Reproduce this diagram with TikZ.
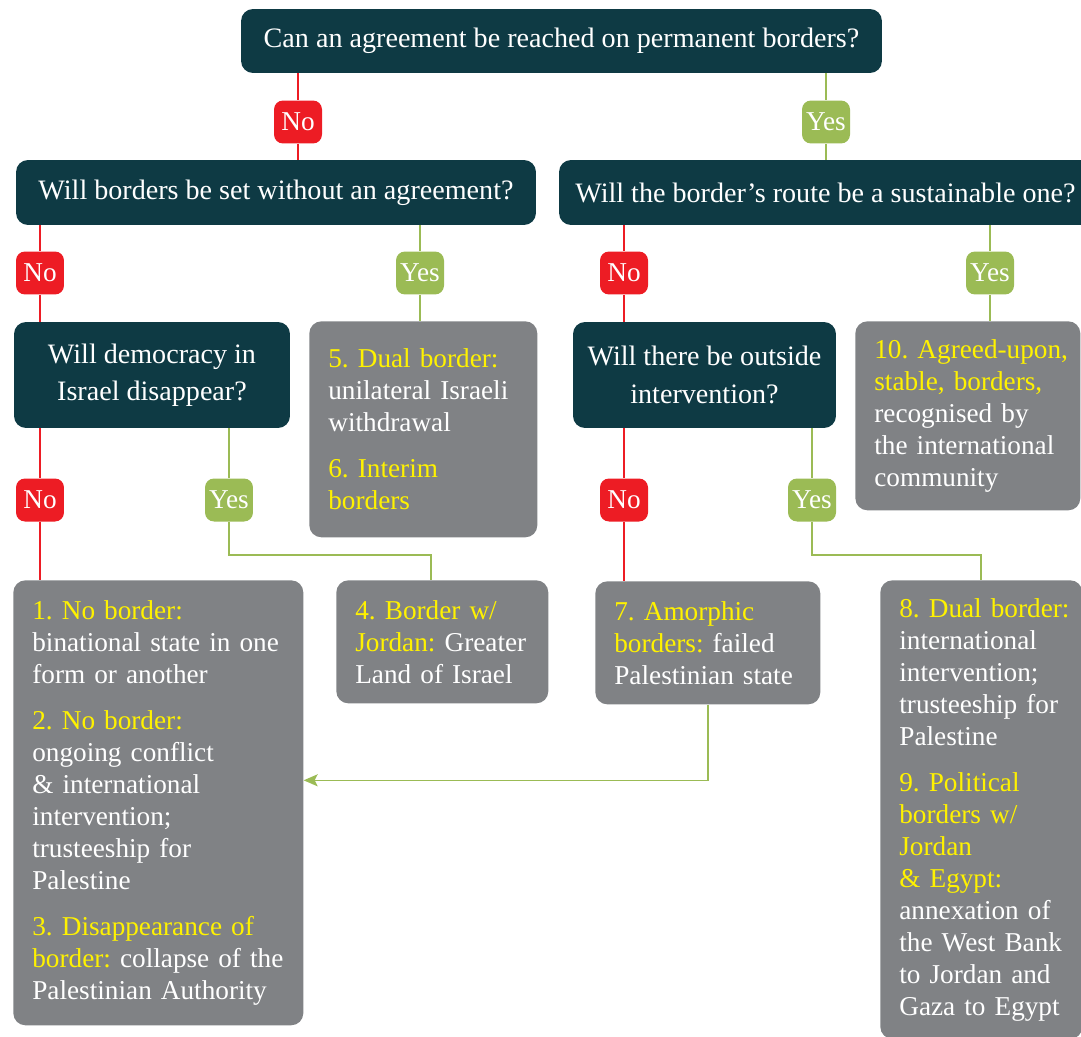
\documentclass[tikz,border=0pt]{standalone}
\usepackage{xcolor}
\usepackage{fontspec}
\setmainfont{Liberation Serif}
\usepackage{tikz}
\usetikzlibrary{arrows.meta,positioning}

\definecolor{qteal}{RGB}{14,58,68}
\definecolor{ogrey}{RGB}{128,130,133}
\definecolor{nored}{RGB}{237,28,36}
\definecolor{yesgreen}{RGB}{155,187,85}
\definecolor{scenyellow}{RGB}{255,242,0}

\newcommand{\scen}[1]{\textcolor{scenyellow}{#1}}
\frenchspacing
\hyphenpenalty=10000
\exhyphenpenalty=10000

\tikzset{
  question/.style={rounded corners=0.24cm,fill=qteal,text=white,align=center,inner sep=0pt,
    font=\fontsize{16pt}{18.2pt}\selectfont},
  outcome/.style={rounded corners=0.24cm,fill=ogrey,text=white,align=left,anchor=north west,
    inner xsep=0.16cm,inner ysep=0.36cm,execute at begin node=\setlength{\leftskip}{0.22cm}},
  nobadge/.style={rounded corners=0.18cm,fill=nored,text=white,minimum width=0.96cm,minimum height=0.86cm,inner sep=0pt},
  yesbadge/.style={nobadge,fill=yesgreen},
  noline/.style={draw=nored,line width=0.9pt},
  yesline/.style={draw=yesgreen,line width=0.9pt}
}

\begin{document}
\begin{tikzpicture}[x=0.02cm,y=-0.02cm,font=\fontsize{15.5pt}{18.2pt}\selectfont]
\useasboundingbox (0,0) rectangle (1081,1037);

% questions
\node[question,minimum width=12.82cm,minimum height=1.28cm] (agree) at (561.5,41) {Can an agreement be reached on permanent borders?};
\node[question,minimum width=10.4cm,minimum height=1.3cm] (unilat) at (276,192.5) {Will borders be set without an agreement?};
\node[question,minimum width=10.66cm,minimum height=1.3cm] (sustain) at (825.5,192.5) {Will the border’s route be a sustainable one?};
\node[question,minimum width=5.52cm,minimum height=2.12cm] (democ) at (152,375) {Will democracy in\\[3pt] Israel disappear?};
\node[question,minimum width=5.26cm,minimum height=2.12cm] (interv) at (704.5,375) {Will there be outside\\[3pt] intervention?};

% scenarios
\node[outcome,text width=4.24cm,minimum height=4.32cm] (out56) at (309,321) {\scen{5. Dual border:}\\ unilateral Israeli\\ withdrawal\\[8pt] \scen{6. Interim}\\ \scen{borders}};
\node[outcome,text width=4.18cm,minimum height=3.78cm] (out10) at (855,321) {\scen{10. Agreed-upon,}\\ \scen{stable, borders,}\\ recognised by\\ the international\\ community};
\node[outcome,text width=5.48cm,minimum height=8.9cm] (out1) at (13,580) {\scen{1. No border:}\\ binational state in one\\ form or another\\[8pt] \scen{2. No border:}\\ ongoing conflict\\ \& international\\ intervention;\\ trusteeship for\\ Palestine\\[8pt] \scen{3. Disappearance of}\\ \scen{border:} collapse of the\\ Palestinian Authority};
\node[outcome,text width=3.92cm,minimum height=2.46cm] (out4) at (336,580) {\scen{4. Border w/}\\ \scen{Jordan:} Greater\\ Land of Israel};
\node[outcome,text width=4.18cm,minimum height=2.46cm] (out7) at (595,581) {\scen{7. Amorphic}\\ \scen{borders:} failed\\ Palestinian state};
\node[outcome,text width=3.72cm] (out89) at (880,580) {\scen{8. Dual border:}\\ international\\ intervention;\\ trusteeship for\\ Palestine\\[8pt] \scen{9. Political}\\ \scen{borders w/}\\ \scen{Jordan}\\ \scen{\& Egypt:}\\ annexation of\\ the West Bank\\ to Jordan and\\ Gaza to Egypt};

% answers
\node[nobadge] (no1) at (298,122) {No};
\node[yesbadge] (yes1) at (826,122) {Yes};
\node[nobadge] (no2) at (40,273) {No};
\node[yesbadge] (yes2) at (420,273) {Yes};
\node[nobadge] (no3) at (624,273) {No};
\node[yesbadge] (yes3) at (990,273) {Yes};
\node[nobadge] (no4) at (40,500) {No};
\node[yesbadge] (yes4) at (229,500) {Yes};
\node[nobadge] (no5) at (624,500) {No};
\node[yesbadge] (yes5) at (812,500) {Yes};

\draw[noline] (no1 |- agree.south) -- (no1) -- (no1 |- unilat.north);
\draw[yesline] (yes1 |- agree.south) -- (yes1) -- (yes1 |- sustain.north);
\draw[noline] (no2 |- unilat.south) -- (no2) -- (no2 |- democ.north);
\draw[yesline] (yes2 |- unilat.south) -- (yes2) -- (yes2 |- out56.north);
\draw[noline] (no3 |- sustain.south) -- (no3) -- (no3 |- interv.north);
\draw[yesline] (yes3 |- sustain.south) -- (yes3) -- (yes3 |- out10.north);
\draw[noline] (no4 |- democ.south) -- (no4) -- (no4 |- out1.north);
\draw[yesline] (yes4 |- democ.south) -- (yes4) -- (yes4 |- 0,555) -| ([xshift=1.9cm]out4.north west);
\draw[noline] (no5 |- interv.south) -- (no5) -- (no5 |- out7.north);
\draw[yesline] (yes5 |- interv.south) -- (yes5) -- (yes5 |- 0,555) -| ([xshift=2.02cm]out89.north west);
\draw[yesline,-{Stealth[length=0.28cm,width=0.24cm,inset=0.06cm]}] (out7.south) |- ([yshift=0.45cm]out1.east);
\end{tikzpicture}
\end{document}
